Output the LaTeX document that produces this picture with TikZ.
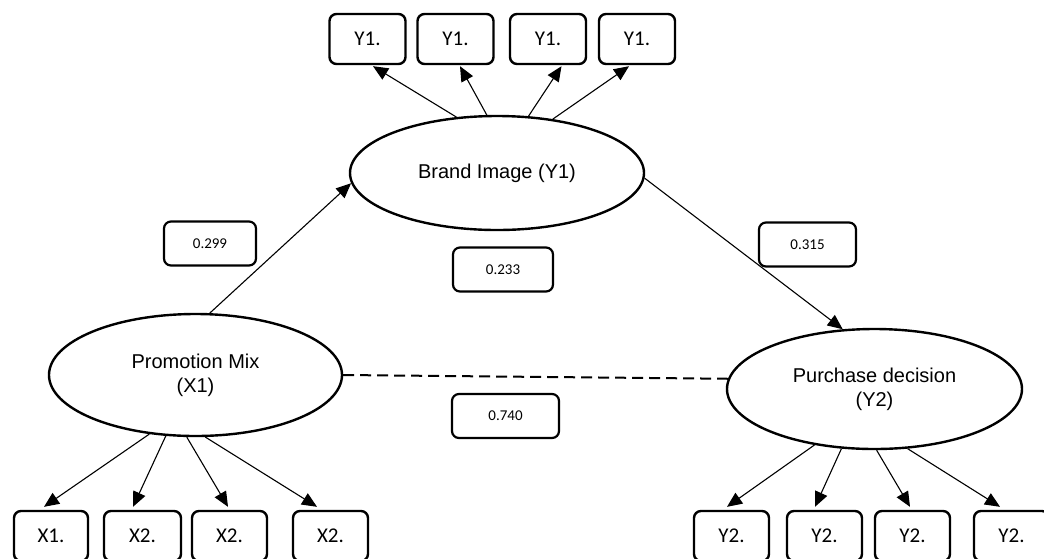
\documentclass[tikz,border=0pt]{standalone}
\usepackage{fontspec}
\setmainfont{Liberation Sans}
\newfontfamily\calfont{Carlito}
\usetikzlibrary{shapes.geometric,arrows.meta}
\tikzset{
  latent/.style={ellipse,draw,line width=2.4pt,inner sep=0pt,align=center,
    font=\fontsize{20}{24}\selectfont},
  indic/.style={rectangle,draw,line width=2.4pt,rounded corners=7pt,inner sep=0pt,
    minimum width=76pt,minimum height=50pt,font=\calfont\fontsize{21}{24}\selectfont},
  coef/.style={rectangle,draw,line width=2.2pt,rounded corners=7pt,inner sep=0pt,
    minimum height=44pt,font=\calfont\fontsize{15}{18}\selectfont},
  link/.style={line width=1.1pt,-{Triangle[length=15pt,width=13pt]}},
  corr/.style={line width=2pt,dash pattern=on 11pt off 6pt}
}
\begin{document}
\begin{tikzpicture}[x=1pt,y=-1pt]
\useasboundingbox (0,0) rectangle (1044,558);
\clip (0,0) rectangle (1044,558);
\fill[white] (0,0) rectangle (1044,558);

% latent variables
\node[latent,minimum width=294pt,minimum height=114pt] (b) at (497,173) {Brand Image (Y1)};
\node[latent,minimum width=293pt,minimum height=122pt] (x) at (195.5,375) {Promotion Mix\\(X1)};
\node[latent,minimum width=295pt,minimum height=120pt] (p) at (874.5,389) {Purchase decision\\(Y2)};

% Y1 indicators
\node[indic] (y11) at (367.5,39) {Y1.};
\node[indic] (y12) at (455.5,39) {Y1.};
\node[indic] (y13) at (548,39) {Y1.};
\node[indic] (y14) at (637,39) {Y1.};

% X indicators
\node[indic,minimum width=74pt] (x1) at (51,536) {X1.};
\node[indic,minimum width=77pt] (x2) at (142.5,536) {X2.};
\node[indic,minimum width=75pt] (x3) at (229.5,536) {X2.};
\node[indic,minimum width=75pt] (x4) at (330.5,536) {X2.};

% Y2 indicators
\node[indic,minimum width=75pt] (y21) at (731.5,536) {Y2.};
\node[indic,minimum width=75pt] (y22) at (824.5,536) {Y2.};
\node[indic,minimum width=75pt] (y23) at (912.5,536) {Y2.};
\node[indic,minimum width=75pt] (y24) at (1011.5,536) {Y2.};

% coefficients
\node[coef,minimum width=92pt] (c1) at (210,243.5) {0.299};
\node[coef,minimum width=100pt] (c2) at (503,269.5) {0.233};
\node[coef,minimum width=97pt] (c3) at (807.5,244.5) {0.315};
\node[coef,minimum width=107pt] (c4) at (505.5,416) {0.740};

% loadings Y1
\draw[link] (b.126.9) -- ([xshift=5.5pt,yshift=-1pt]y11.south);
\draw[link] (b.100) -- ([xshift=4.5pt,yshift=-1pt]y12.south);
\draw[link] (b.61) -- ([xshift=13.5pt,yshift=-1pt]y13.south);
\draw[link] (b.44.5) -- ([xshift=-8pt,yshift=-1pt]y14.south);

% loadings X
\draw[link] (x.232.4) -- ([xshift=-7pt,yshift=3pt]x1.north);
\draw[link] (x.244) -- ([xshift=-9.5pt,yshift=3pt]x2.north);
\draw[link] (x.262) -- ([xshift=-1.5pt,yshift=3pt]x3.north);
\draw[link] (x.279.6) -- ([xshift=-13.5pt,yshift=3pt]x4.north);

% loadings Y2
\draw[link] (p.223.7) -- ([xshift=-4.5pt,yshift=3pt]y21.north);
\draw[link] (p.241.4) -- ([xshift=-9.5pt,yshift=3pt]y22.north);
\draw[link] (p.272.3) -- ([xshift=-2.5pt,yshift=3pt]y23.north);
\draw[link] (p.299.4) -- ([xshift=-11.5pt,yshift=3pt]y24.north);

% structural paths
\draw[link] (x.77.7) -- (b.184);
\draw[link] (b.-2.3) -- (p.118.6);
\draw[corr] (x.east) -- (p.176.5);
\end{tikzpicture}
\end{document}
